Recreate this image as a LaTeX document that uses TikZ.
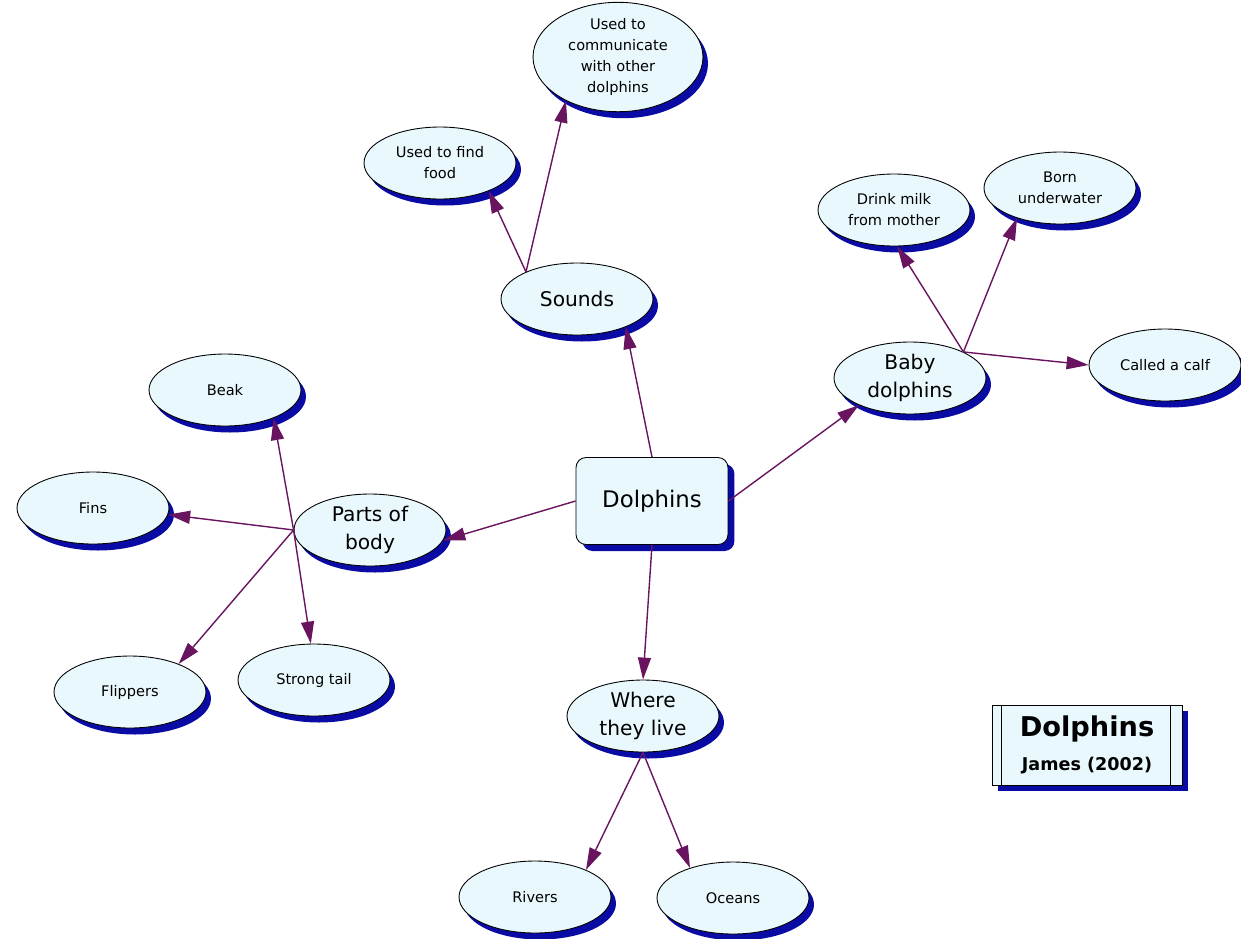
\documentclass[tikz,border=0pt]{standalone}
\usepackage{fontspec}
\setmainfont{DejaVu Sans}
\usetikzlibrary{shapes.geometric,shadows,arrows.meta}
\definecolor{conceptfill}{RGB}{232,248,252}
\definecolor{shadowblue}{RGB}{10,10,165}
\definecolor{linkpurple}{RGB}{105,20,95}
\newcommand{\smalltext}{\fontsize{8.3}{12}\selectfont}
\newcommand{\bigtext}{\fontsize{11.5}{15.5}\selectfont}

\begin{document}
\begin{tikzpicture}[x=0.02cm, y=-0.02cm,
    every node/.style={align=center},
    concept/.style={ellipse, draw=black, line width=0.5pt, fill=conceptfill, inner sep=0pt,
        minimum width=3.04cm, minimum height=1.44cm, font=\smalltext,
        drop shadow={shadow xshift=0.1cm, shadow yshift=-0.13cm, fill=shadowblue, opacity=1}},
    main/.style={concept, font=\bigtext},
    arr/.style={-{Triangle[length=0.44cm, width=0.26cm]}, line width=0.8pt, linkpurple}
]
\useasboundingbox (0,0) rectangle (1241,938);

\node[rectangle, rounded corners=0.2cm, draw=black, line width=0.5pt, fill=conceptfill,
    minimum width=3.04cm, minimum height=1.74cm, font=\fontsize{13}{16}\selectfont,
    drop shadow={shadow xshift=0.13cm, shadow yshift=-0.13cm, fill=shadowblue, opacity=1}]
    (dolph) at (652,501) {Dolphins};

\node[main] (sounds) at (577,299) {Sounds};
\node[main] (baby) at (910,378) {Baby\\dolphins};
\node[main] (parts) at (370,530) {Parts of\\body};
\node[main] (where) at (643,716) {Where\\they live};

\node[concept] (food) at (440,163) {Used to find\\food};
\node[concept, minimum width=3.4cm, minimum height=2.16cm] (comm) at (618,57)
    {Used to\\communicate\\with other\\dolphins};
\node[concept] (milk) at (894,210) {Drink milk\\from mother};
\node[concept] (born) at (1060,188) {Born\\underwater};
\node[concept] (calf) at (1165,365) {Called a calf};
\node[concept] (beak) at (225,390) {Beak};
\node[concept] (fins) at (93,508) {Fins};
\node[concept] (flippers) at (130,692) {Flippers};
\node[concept] (tail) at (314,680) {Strong tail};
\node[concept] (rivers) at (535,897) {Rivers};
\node[concept] (oceans) at (733,898) {Oceans};

\draw[arr] (dolph.north) -- (sounds.-30);
\draw[arr] (dolph.east) -- (baby.208);
\draw[arr] (dolph.west) -- (parts.-8);
\draw[arr] (dolph.south) -- (where.north);
\draw[arr] (sounds.152) -- (food.-30);
\draw[arr] (sounds.152) -- (comm.220);
\draw[arr] (baby.26) -- (milk.-85);
\draw[arr] (baby.26) -- (born.215);
\draw[arr] (baby.26) -- (calf.west);
\draw[arr] (parts.west) -- (beak.-30);
\draw[arr] (parts.west) -- (fins.-5);
\draw[arr] (parts.west) -- (flippers.30);
\draw[arr] (parts.west) -- (tail.95);
\draw[arr] (where.south) -- (rivers.28);
\draw[arr] (where.south) -- (oceans.145);

\node[rectangle, draw=black, line width=0.5pt, fill=conceptfill, inner sep=0pt,
    minimum width=3.8cm, minimum height=1.6cm,
    drop shadow={shadow xshift=0.12cm, shadow yshift=-0.12cm, fill=shadowblue, opacity=1}]
    (title) at (1087,745)
    {{\fontsize{15.5}{19}\selectfont\bfseries Dolphins}\\[7pt]{\fontsize{10}{12}\selectfont\bfseries James (2002)}};
\draw[line width=0.5pt] ([xshift=0.2cm]title.north west) -- ([xshift=0.2cm]title.south west);
\draw[line width=0.5pt] ([xshift=-0.24cm]title.north east) -- ([xshift=-0.24cm]title.south east);
\end{tikzpicture}
\end{document}
